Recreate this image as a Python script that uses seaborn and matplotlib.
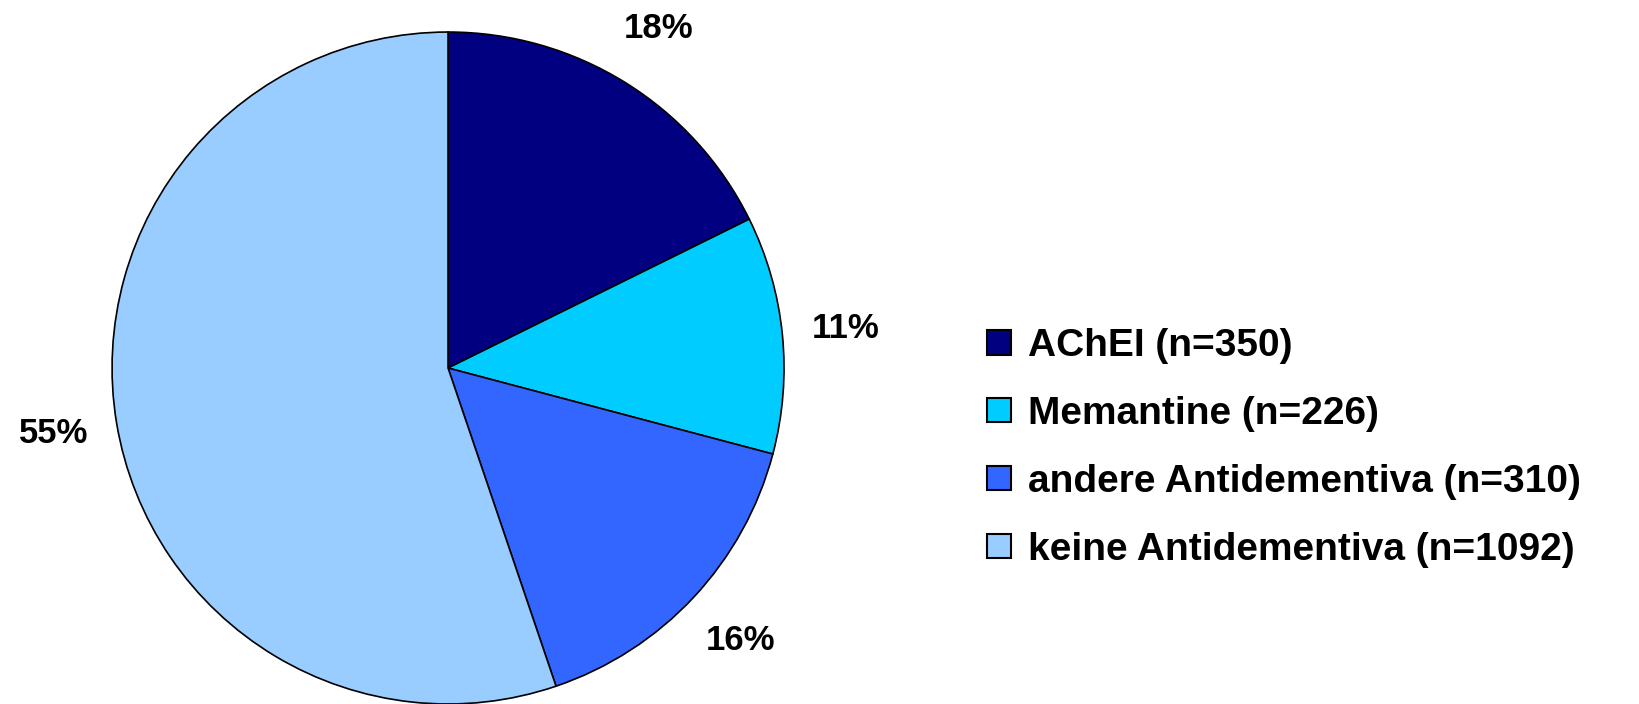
import matplotlib
matplotlib.use("Agg")
import matplotlib.pyplot as plt
import seaborn as sns
from matplotlib.patches import Patch

categories = ["AChEI (n=350)", "Memantine (n=226)", "andere Antidementiva (n=310)", "keine Antidementiva (n=1092)"]
counts = [350, 226, 310, 1092]
colors = ["#000080", "#00CCFF", "#3366FF", "#99CCFF"]

sns.set_theme(style="white")
plt.rcParams['font.family'] = ['Liberation Sans', 'DejaVu Sans']

fig = plt.figure(figsize=(16.4, 7.04), dpi=100)
ax = fig.add_axes([0.0683, 0.0, 0.4098, 0.9545])
wedges, texts, autotexts = ax.pie(
    counts, colors=colors, startangle=90, counterclock=False,
    autopct=lambda p: f"{p:.0f}%", pctdistance=1.19, radius=1.0,
    wedgeprops=dict(edgecolor="black", linewidth=1.2),
    textprops=dict(fontsize=25, fontweight="bold", color="black"),
)
ax.set_xlim(-1, 1)
ax.set_ylim(-1, 1)
ax.set_aspect("equal")
ax.axis("off")

handles = [Patch(facecolor=c, edgecolor="black", linewidth=1.5) for c in colors]
leg = fig.legend(handles, categories, loc="center left", bbox_to_anchor=(0.602, 0.364),
                 frameon=False, fontsize=28, handlelength=0.6, handleheight=0.6,
                 handletextpad=0.45, labelspacing=0.82, borderaxespad=0, borderpad=0)
for t in leg.get_texts():
    t.set_fontweight("bold")
    t.set_color("black")

fig.savefig("out.png", dpi=100)
